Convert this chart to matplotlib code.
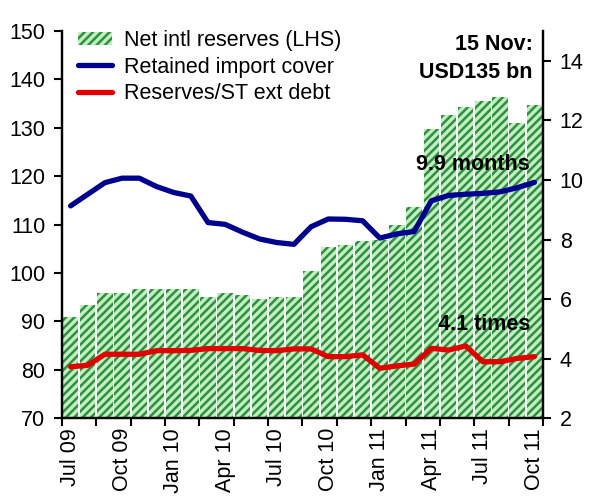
import matplotlib
matplotlib.use("Agg")
import matplotlib.pyplot as plt
import numpy as np

plt.rcParams['font.family'] = ['Liberation Sans', 'DejaVu Sans']
plt.rcParams['hatch.linewidth'] = 1.8

# Monthly data, Jul 09 - Oct 11 (last point is the 15 Nov reading)
months = ['Jul 09', 'Aug 09', 'Sep 09', 'Oct 09', 'Nov 09', 'Dec 09',
          'Jan 10', 'Feb 10', 'Mar 10', 'Apr 10', 'May 10', 'Jun 10',
          'Jul 10', 'Aug 10', 'Sep 10', 'Oct 10', 'Nov 10', 'Dec 10',
          'Jan 11', 'Feb 11', 'Mar 11', 'Apr 11', 'May 11', 'Jun 11',
          'Jul 11', 'Aug 11', 'Sep 11', 'Oct 11']
reserves = [90.9, 93.4, 95.8, 95.8, 96.7, 96.7, 96.7, 96.7, 95.1, 95.9,
            95.5, 94.7, 95.1, 95.1, 100.4, 105.3, 105.8, 106.6, 106.8, 109.9,
            113.6, 129.8, 132.7, 134.3, 135.6, 136.3, 131.0, 134.7]
import_cover = [9.13, 9.52, 9.91, 10.06, 10.06, 9.78, 9.58, 9.46, 8.57, 8.51,
                8.25, 8.02, 7.90, 7.84, 8.43, 8.69, 8.68, 8.63, 8.05, 8.19,
                8.27, 9.30, 9.48, 9.52, 9.55, 9.60, 9.74, 9.92]
st_debt_ratio = [3.73, 3.78, 4.15, 4.15, 4.15, 4.27, 4.27, 4.28, 4.34, 4.34,
                 4.34, 4.28, 4.27, 4.33, 4.33, 4.07, 4.07, 4.13, 3.68, 3.76,
                 3.82, 4.35, 4.29, 4.43, 3.90, 3.90, 4.01, 4.07]

x = np.arange(len(months))
fs = 15.5

fig = plt.figure(figsize=(5.95, 4.98), dpi=100)
ax = fig.add_axes([0.1042, 0.160, 0.8084, 0.7778])
ax2 = ax.twinx()

bars = ax.bar(x, reserves, width=0.9, color='#c0f0c0', edgecolor='#2f8f3f',
              linewidth=0, hatch='////', label='Net intl reserves (LHS)')
l1, = ax2.plot(x, import_cover, color='#000090', lw=3.8,
               solid_capstyle='round', solid_joinstyle='round',
               label='Retained import cover')
l2, = ax2.plot(x, st_debt_ratio, color='#e00000', lw=3.8,
               solid_capstyle='round', solid_joinstyle='round',
               label='Reserves/ST ext debt')

ax.set_xlim(-0.5, len(months) - 0.5)
ax.set_ylim(70, 150)
ax.set_yticks(np.arange(70, 151, 10))
ax2.set_ylim(2, 15)
ax2.set_yticks(np.arange(2, 15, 2))

# tick marks every two months on bar boundaries, labels every quarter
ax.set_xticks(np.arange(-0.5, len(months), 2))
ax.set_xticklabels([])
ax.set_xticks(x[::3], minor=True)
ax.set_xticklabels(months[::3], minor=True, rotation=90, fontsize=fs)
ax.tick_params(axis='x', which='minor', length=0, pad=7)
ax.tick_params(axis='x', which='major', length=6, width=1.5, direction='out')
ax.tick_params(axis='y', length=6, width=1.5, labelsize=fs, pad=6)
ax2.tick_params(axis='y', length=6, width=1.5, labelsize=fs, pad=6)

for a in (ax, ax2):
    a.spines['top'].set_visible(False)
    for s in ('left', 'right', 'bottom'):
        a.spines[s].set_linewidth(1.6)

ax2.text(0.979, 0.964, '15 Nov:', transform=ax2.transAxes, ha='right',
         va='center', fontsize=fs, fontweight='bold')
ax2.text(0.979, 0.892, 'USD135 bn', transform=ax2.transAxes, ha='right',
         va='center', fontsize=fs, fontweight='bold')
ax2.text(0.973, 0.654, '9.9 months', transform=ax2.transAxes, ha='right',
         va='center', fontsize=fs, fontweight='bold')
ax2.text(0.973, 0.241, '4.1 times', transform=ax2.transAxes, ha='right',
         va='center', fontsize=fs, fontweight='bold')

ax2.legend([bars, l1, l2], [bars.get_label(), l1.get_label(), l2.get_label()],
           loc='upper left', bbox_to_anchor=(78 / 595, 1 - 30 / 498),
           bbox_transform=fig.transFigure, frameon=False, fontsize=fs,
           borderpad=0, borderaxespad=0, handlelength=1.6,
           handleheight=0.6, handletextpad=0.55, labelspacing=0.26)

fig.savefig('out.png', dpi=100)
